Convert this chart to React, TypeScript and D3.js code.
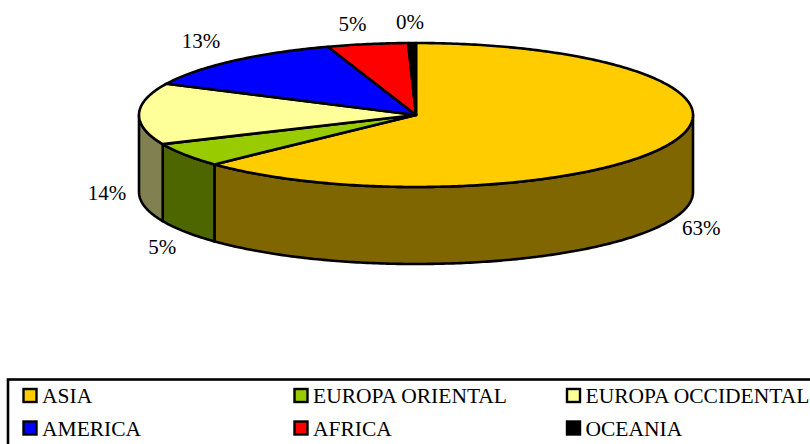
import React from "react";
import * as d3 from "d3";

const categories = ["ASIA", "EUROPA ORIENTAL", "EUROPA OCCIDENTAL", "AMERICA", "AFRICA", "OCEANIA"];
const shares = [63.0, 5.4, 13.8, 12.7, 4.7, 0.45];
const topColors = ["#ffcc00", "#99cc00", "#ffff99", "#0000ff", "#ff0000", "#000000"];
const wallColors = ["#806600", "#4d6600", "#808050", "#000080", "#800000", "#000000"];
const labelOffsets: [number, number][] = [[31, 10], [-23, 17], [-32, 81], [-32, -18], [-15, -18], [-2, -19]];
const legendX = [30, 301, 573.5];
const legendY = [395.5, 428];

const W = 810, H = 444;
const cx = 416, cy = 115, rx = 277, ry = 72, depth = 77;

const px = d3.scaleLinear().domain([-1, 1]).range([cx - rx, cx + rx]);
const py = d3.scaleLinear().domain([-1, 1]).range([cy - ry, cy + ry]);
const pt = (a: number, drop = 0): [number, number] => [px(Math.sin(a)), py(-Math.cos(a)) + drop];
const line = d3.line();
const sample = (a0: number, a1: number, drop = 0) => {
  const n = Math.max(2, Math.ceil(Math.abs(a1 - a0) * 80));
  return d3.range(n + 1).map((i) => pt(a0 + ((a1 - a0) * i) / n, drop));
};

export default function App() {
  const arcs = d3.pie<number>().sort(null)(shares);
  const ordered = [...arcs.keys()];
  return (
    <svg width={W} height={H} style={{ position: "absolute", left: 0, top: 0, background: "#fff" }}
      fontFamily="'Liberation Serif', serif">
      {ordered.map((i) => {
        const a = arcs[i];
        const s = Math.max(a.startAngle, Math.PI / 2);
        const e = Math.min(a.endAngle, (Math.PI * 3) / 2);
        if (e <= s) return null;
        const d = line([...sample(s, e), ...sample(e, s, depth)]) + "Z";
        return <path key={i} d={d} fill={wallColors[i]} stroke="#000" strokeWidth={2.6} strokeLinejoin="round" />;
      })}
      {ordered.map((i) => {
        const a = arcs[i];
        const d = line([[cx, cy], ...sample(a.startAngle, a.endAngle)]) + "Z";
        return <path key={i} d={d} fill={topColors[i]} stroke="#000" strokeWidth={2.6} strokeLinejoin="round" />;
      })}
      {ordered.map((i) => {
        const a = arcs[i];
        const mid = (a.startAngle + a.endAngle) / 2;
        const [x, y] = pt(mid);
        return (
          <text key={i} x={x + labelOffsets[i][0]} y={y + labelOffsets[i][1] + (Math.cos(mid) < 0 ? depth : 0)}
            fontSize={21} fill="#000" textAnchor="middle" dominantBaseline="middle">
            {Math.round(shares[i])}%
          </text>
        );
      })}
      <rect x={8} y={379.5} width={W + 10} height={H} fill="#fff" stroke="#000" strokeWidth={2.6} />
      {categories.map((c, i) => {
        const x = legendX[i % 3];
        const y = legendY[Math.floor(i / 3)];
        return (
          <g key={c}>
            <rect x={x - 6.5} y={y - 6.5} width={13} height={13} fill={topColors[i]} stroke="#000" strokeWidth={2.4} />
            <text x={x + 12} y={y + 7.5} fontSize={21.5} fill="#000">{c}</text>
          </g>
        );
      })}
    </svg>
  );
}
